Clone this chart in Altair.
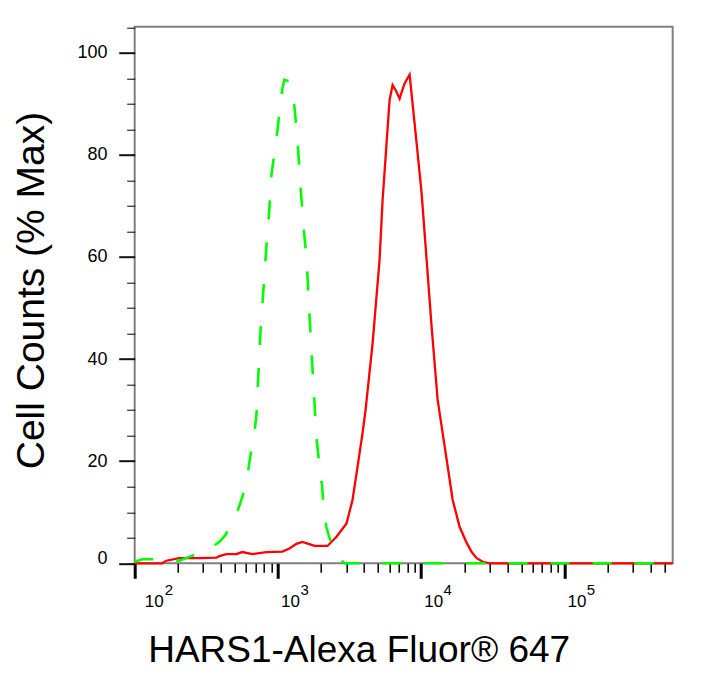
import altair as alt
import pandas as pd

# ---- data (fluorescence intensity, % of max) ----
red_x = [100, 126.3, 155.7, 166.1, 204.8, 282.5, 371.5, 389.9, 436.4, 512.6, 564.5, 663.2,
         830.8, 1075, 1203, 1347, 1484, 1634, 1800, 2220, 2566, 3013, 3319, 3597, 3899, 4092,
         4579, 5126, 5380, 5737, 6022, 6320, 6688, 7073, 7664, 8310, 8721, 9301, 10080, 10926,
         11840, 13045, 14138, 15322, 16610, 18590, 20810, 22550, 24440, 26920, 30130, 571000]
red_y = [0, 0, 0, 0.5, 1.0, 1.0, 1.1, 1.4, 1.8, 1.8, 2.2, 1.8,
         2.2, 2.3, 2.9, 3.8, 4.2, 3.8, 3.4, 3.4, 5.2, 7.8, 12.4, 18.9, 25.5, 30,
         43, 59.4, 71, 82.3, 90.7, 93.7, 92.5, 91, 94, 95.7, 90, 82.3, 72.5, 59.4,
         46.3, 32, 25.5, 19, 12.4, 7.1, 4, 2.2, 1, 0.3, 0, 0]

green_x = [100, 112.8, 132.6, 160.8, 204.8, 252.5, 306.2, 348.3, 389.9, 429.4, 512.6, 564.5,
           611.9, 642.1, 685, 707.4, 754.3, 830.8, 865, 900.6, 984, 1075, 1110, 1165, 1237,
           1305, 1369, 1437, 1508, 1582, 1688, 1800, 1844, 1951, 2038, 2081, 2184, 2405, 2650,
           2917, 571000]
green_y = [0.3, 0.8, 0.8, 0.6, 0.5, 1.5, 2.2, 3.2, 4.2, 5.5, 9.5, 13,
           17, 21, 25.5, 29, 45, 62, 68, 76, 84, 93, 94.7, 94.5, 93,
           89.4, 83, 74, 66, 60, 45, 31.5, 25.5, 19, 15, 11, 7, 3, 1.2,
           0, 0]

x_major = [100, 1000, 10000, 100000]
x_minor = [200, 300, 400, 500, 600, 700, 800, 900,
           2000, 3000, 4000, 5000, 6000, 7000, 8000, 9000,
           20000, 30000, 40000, 50000, 60000, 70000, 80000, 90000,
           200000, 300000, 400000, 500000]
y_major = [0, 20, 40, 60, 80, 100]
y_minor = [0, 5, 10, 15, 25, 30, 35, 45, 50, 55, 65, 70, 75, 85, 90, 95, 105]

x_title = "HARS1-Alexa Fluor® 647"
y_title = "Cell Counts (% Max)"

red_df = pd.DataFrame({"x": red_x, "y": red_y})
green_df = pd.DataFrame({"x": green_x, "y": green_y})

FONT = "Liberation Sans"

x_scale = alt.Scale(type="log", domain=[100, 571000], nice=False)
y_scale = alt.Scale(domain=[0, 105.1], nice=False, zero=False)

common = dict(orient="bottom", domain=False, grid=False, labelFont=FONT,
              labelColor="black", labelOverlap=False, labelFlush=False)

# layer 1: red line, minor ticks on both axes
red = alt.Chart(red_df).mark_line(color="#ff0000", strokeWidth=2.3).encode(
    x=alt.X("x:Q", scale=x_scale,
            axis=alt.Axis(values=x_minor, tickSize=9, tickWidth=1.5, tickColor="black",
                          labels=False, title="", **common)),
    y=alt.Y("y:Q", scale=y_scale,
            axis=alt.Axis(values=y_minor, orient="left", tickSize=8, tickWidth=1,
                          tickColor="black", labelExpr="datum.value == 0 ? '0' : ''",
                          labelBaseline="alphabetic", labelAlign="right",
                          labelPadding=19.6, labelFontSize=18, labelFont=FONT,
                          labelColor="black", labelOverlap=False, labelFlush=False,
                          domain=False, grid=False, title="")),
)

# layer 2: green dashed line, major ticks + "10" labels, axis titles
green = alt.Chart(green_df).mark_line(color="#00ff00", strokeWidth=2.6,
                                      strokeDash=[19, 23]).encode(
    x=alt.X("x:Q", scale=x_scale,
            axis=alt.Axis(values=x_major, tickSize=15, tickWidth=3, tickColor="black",
                          labelExpr="'10'", labelAlign="left", labelBaseline="top",
                          labelOffset={"condition": {"test": "datum.value == 100", "value": 9.5},
                                       "value": 2.7},
                          labelPadding=15.7, labelFontSize=17,
                          title=x_title, titleFont=FONT, titleFontSize=37,
                          titleFontWeight="normal", titleColor="black",
                          titleX=224, titleY=98.7, titleAlign="center",
                          titleBaseline="alphabetic", titleAngle=0, **common)),
    y=alt.Y("y:Q", scale=y_scale,
            axis=alt.Axis(values=y_major, orient="left", tickSize=16, tickWidth=2,
                          tickColor="#111111",
                          labelExpr="datum.value == 0 ? '' : datum.label",
                          labelBaseline="middle", labelAlign="right",
                          labelPadding=11.6, labelFontSize=18, labelFont=FONT,
                          labelColor="black", labelOverlap=False, labelFlush=False,
                          domain=False, grid=False,
                          title=y_title, titleFont=FONT, titleFontSize=39,
                          titleFontWeight="normal", titleColor="black",
                          titleAngle=270, titleX=-91, titleY=263.3,
                          titleAlign="center", titleBaseline="alphabetic")),
)

# layer 3: carries only the exponent (superscript) labels of the x axis
sup = alt.Chart(green_df).mark_line(strokeOpacity=0).encode(
    x=alt.X("x:Q", scale=x_scale,
            axis=alt.Axis(values=x_major, tickSize=15, tickOpacity=0,
                          labelExpr="datum.value == 100 ? '2' : datum.value == 1000 ? '3' : "
                                    "datum.value == 10000 ? '4' : '5'",
                          labelAlign="left", labelBaseline="top",
                          labelOffset={"condition": {"test": "datum.value == 100", "value": 29.5},
                                       "value": 22},
                          labelPadding=4.7, labelFontSize=15, title="", **common)),
    y=alt.Y("y:Q", scale=y_scale, axis=None),
)

chart = alt.layer(red, green, sup).resolve_scale(
    x="shared", y="shared"
).resolve_axis(
    x="independent", y="independent"
).properties(
    width=538,
    height=536.6,
    autosize=alt.AutoSizeParams(type="none"),
    padding={"left": 126.7, "top": 18.7, "right": 25, "bottom": 109},
    background="white",
).configure_view(
    stroke="#808080", strokeWidth=2
)

chart.save("out.html", embed_options={"renderer": "svg", "actions": False})
